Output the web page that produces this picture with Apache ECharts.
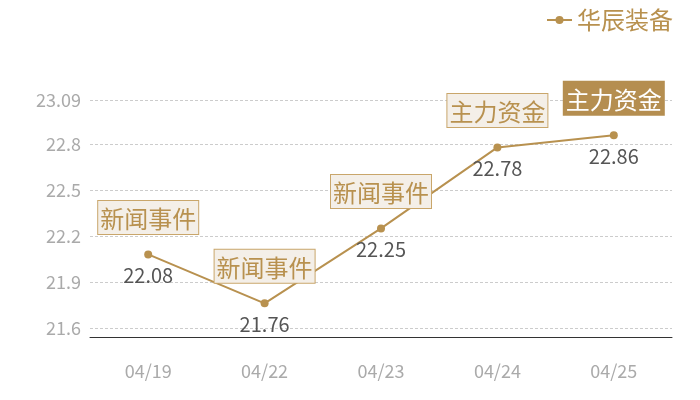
<!DOCTYPE html>
<html><head><meta charset="utf-8">
<script src="https://cdn.jsdelivr.net/npm/echarts@6/dist/echarts.min.js"></script>
<style>html,body{margin:0;padding:0;background:#fff}#c{width:700px;height:400px}</style>
</head><body><div id="c"></div>
<script>
const categories = ['04/19','04/22','04/23','04/24','04/25'];
const prices = [22.08, 21.76, 22.25, 22.78, 22.86];
const events = ['新闻事件','新闻事件','新闻事件','主力资金','主力资金'];
const highlighted = [false, false, false, false, true];
const yTicks = [21.6, 21.9, 22.2, 22.5, 22.8, 23.09];
const seriesName = '华辰装备';

const gold = '#b8914f';
const font = '"Noto Sans CJK SC", "Noto Sans", sans-serif';

const eventData = prices.map((v, i) => ({
  value: v,
  label: highlighted[i] ? {
    backgroundColor: '#b58e50', borderColor: '#b58e50', color: '#fff'
  } : {
    backgroundColor: '#f4efe8', borderColor: '#c9a66b', color: '#b8914f'
  }
}));

const chart = echarts.init(document.getElementById('c'));
chart.setOption({
  animation: false,
  textStyle: { fontFamily: font },
  legend: {
    data: [seriesName], right: 22, top: 3,
    itemWidth: 25, itemHeight: 10, itemGap: 6,
    textStyle: { color: gold, fontSize: 24, fontFamily: font }
  },
  grid: { left: 90, right: 28, top: 100, bottom: 63 },
  xAxis: {
    type: 'category', data: categories,
    axisLine: { lineStyle: { color: '#333', width: 1 } },
    axisTick: { show: false },
    axisLabel: { color: '#aaa', fontSize: 18, margin: 25, fontFamily: font }
  },
  yAxis: {
    type: 'value', min: 21.54, max: 23.09,
    axisLine: { show: false }, axisTick: { show: false, customValues: yTicks },
    axisLabel: { color: '#aaa', fontSize: 18, margin: 9, customValues: yTicks, fontFamily: font },
    splitLine: { lineStyle: { color: '#ccc', type: [3, 2] } }
  },
  series: [{
    name: seriesName, type: 'line', data: prices,
    symbol: 'circle', symbolSize: 8, z: 3,
    itemStyle: { color: gold },
    lineStyle: { color: gold, width: 2 },
    label: { show: true, position: 'bottom', distance: 7, color: '#555', fontSize: 20, fontFamily: font }
  }, {
    name: 'events', type: 'line', data: eventData,
    symbol: 'circle', symbolSize: 1, showSymbol: true, z: 4,
    itemStyle: { color: 'rgba(0,0,0,0)' }, lineStyle: { width: 0, color: 'rgba(0,0,0,0)' }, silent: true,
    label: {
      show: true, position: 'top', distance: 20,
      formatter: p => events[p.dataIndex],
      fontSize: 24, lineHeight: 28, fontFamily: font, borderWidth: 1,
      padding: [4, 2, 1, 2]
    }
  }]
});
</script></body></html>
